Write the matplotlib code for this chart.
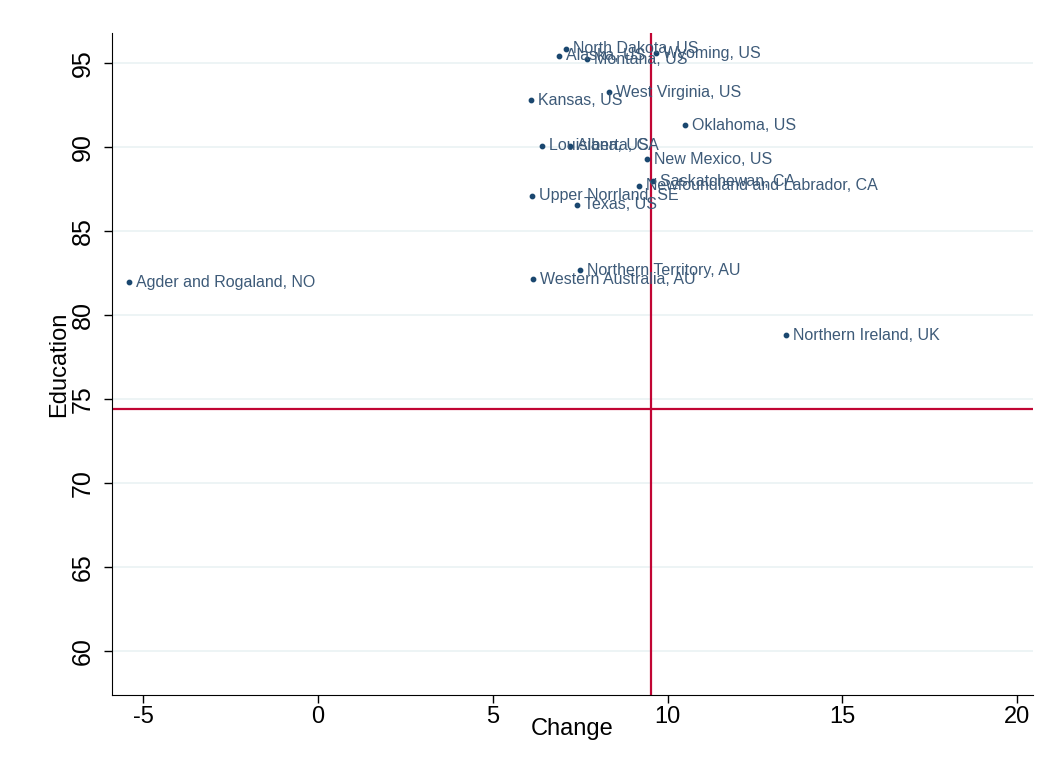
import matplotlib.pyplot as plt

regions = ["Agder and Rogaland, NO", "North Dakota, US", "Alaska, US", "Montana, US",
           "Wyoming, US", "West Virginia, US", "Kansas, US", "Oklahoma, US",
           "Louisiana, US", "Alberta, CA", "New Mexico, US", "Saskatchewan, CA",
           "Newfoundland and Labrador, CA", "Upper Norrland, SE", "Texas, US",
           "Northern Territory, AU", "Western Australia, AU", "Northern Ireland, UK"]
change = [-5.40, 7.09, 6.90, 7.69, 9.67, 8.31, 6.10, 10.50, 6.40, 7.21, 9.40, 9.58,
          9.18, 6.11, 7.40, 7.50, 6.14, 13.39]
education = [81.95, 95.82, 95.42, 95.22, 95.56, 93.24, 92.78, 91.29, 90.06, 90.06,
             89.27, 87.96, 87.68, 87.08, 86.57, 82.66, 82.13, 78.79]

mean_change = 9.53
mean_education = 74.4

x_ticks = [-5, 0, 5, 10, 15, 20]
x_ticklabels = ["-5", "0", "5", "10", "15", "20"]
y_ticks = [60, 65, 70, 75, 80, 85, 90, 95]

plt.rcParams['font.family'] = ['Liberation Sans', 'DejaVu Sans']

fig = plt.figure(figsize=(10.46, 7.64), dpi=100)
ax = fig.add_axes([0.1068, 0.0903, 0.8808, 0.8665])

for y in y_ticks:
    ax.axhline(y, color='#eaf2f3', lw=1.2, zorder=0)

ax.axvline(mean_change, color='#c10534', lw=1.6, zorder=1)
ax.axhline(mean_education, color='#c10534', lw=1.6, zorder=1)

ax.scatter(change, education, s=10, color='#1a476f', zorder=3)
for name, x, y in zip(regions, change, education):
    ax.annotate(name, (x, y), xytext=(5, 0), textcoords='offset points',
                va='center', ha='left', fontsize=11.5, color='#3d5a78', zorder=4)

ax.set_xlim(-5.9, 20.45)
ax.set_ylim(57.4, 96.77)
ax.set_xticks(x_ticks)
ax.set_xticklabels(x_ticklabels)
ax.set_yticks(y_ticks)
ax.tick_params(axis='x', labelsize=17, length=6, width=1, pad=2)
ax.tick_params(axis='y', labelsize=18, length=6, width=1, pad=6)
for lbl in ax.get_yticklabels():
    lbl.set_rotation(90)
    lbl.set_va('center')

ax.spines['top'].set_visible(False)
ax.spines['right'].set_visible(False)
ax.set_xlabel('Change', fontsize=17, labelpad=-7)
ax.set_ylabel('Education', fontsize=17, labelpad=1)

fig.savefig('out.png', dpi=100)
